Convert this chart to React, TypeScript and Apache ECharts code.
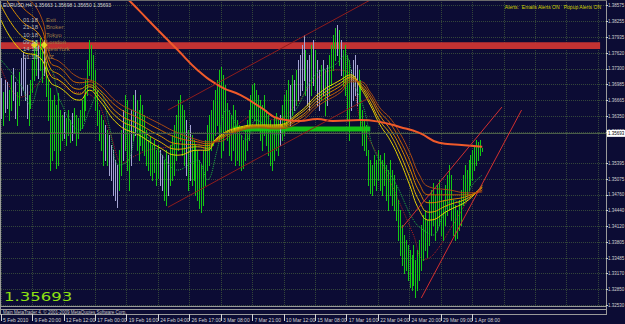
import React, { useEffect, useRef } from 'react';
import * as echarts from 'echarts';

// ---------- data ----------
const symbolTitle = 'EURUSD,H4';
const quote = ['1.35663', '1.35698', '1.35650', '1.35693'];
const currentPrice = 1.35693;

const dateLabels = [
  '5 Feb 2010', '9 Feb 20:00', '12 Feb 12:00', '17 Feb 00:00', '19 Feb 16:00', '24 Feb 04:00',
  '26 Feb 17:00', '3 Mar 08:00', '7 Mar 21:00', '10 Mar 12:00', '15 Mar 08:00', '17 Mar 16:00',
  '22 Mar 04:00', '24 Mar 20:00', '29 Mar 09:00', '1 Apr 08:00',
];

const yTickValues = [
  1.3253, 1.3285, 1.3317, 1.33485, 1.33805, 1.3412, 1.3444, 1.3476, 1.35075, 1.35395,
  1.3603, 1.3635, 1.36665, 1.36985, 1.373, 1.3762, 1.37935, 1.38255, 1.38575,
];

const highs = [
  1.3712, 1.3683, 1.3708, 1.3704, 1.3687, 1.3718, 1.3732, 1.3704, 1.3683, 1.3724,
  1.3752, 1.3764, 1.3752, 1.3698, 1.3677, 1.3708, 1.3748, 1.3776, 1.3788, 1.3778,
  1.3792, 1.3780, 1.3788, 1.3744, 1.3708, 1.3692, 1.3667, 1.3677, 1.3657, 1.3681,
  1.3647, 1.3637, 1.3643, 1.3631, 1.3647, 1.3627, 1.3641, 1.3651, 1.3637, 1.3631,
  1.3647, 1.3667, 1.3677, 1.3708, 1.3748, 1.3788, 1.3778, 1.3758, 1.3728, 1.3687,
  1.3647, 1.3637, 1.3627, 1.3617, 1.3607, 1.3597, 1.3577, 1.3566, 1.3546, 1.3536,
  1.3566, 1.3607, 1.3647, 1.3677, 1.3667, 1.3627, 1.3647, 1.3677, 1.3687, 1.3667,
  1.3647, 1.3677, 1.3657, 1.3637, 1.3607, 1.3587, 1.3593, 1.3577, 1.3587, 1.3566,
  1.3577, 1.3566, 1.3556, 1.3546, 1.3566, 1.3556, 1.3577, 1.3597, 1.3617, 1.3637,
  1.3667, 1.3677, 1.3657, 1.3647, 1.3627, 1.3607, 1.3617, 1.3597, 1.3587, 1.3577,
  1.3566, 1.3546, 1.3536, 1.3566, 1.3587, 1.3617, 1.3637, 1.3647, 1.3667, 1.3687,
  1.3708, 1.3728, 1.3734, 1.3718, 1.3698, 1.3661, 1.3647, 1.3637, 1.3657, 1.3647,
  1.3627, 1.3617, 1.3597, 1.3587, 1.3607, 1.3627, 1.3647, 1.3677, 1.3698, 1.3702,
  1.3687, 1.3677, 1.3667, 1.3657, 1.3677, 1.3647, 1.3637, 1.3627, 1.3617, 1.3631,
  1.3641, 1.3627, 1.3637, 1.3657, 1.3677, 1.3687, 1.3708, 1.3698, 1.3718, 1.3708,
  1.3728, 1.3748, 1.3758, 1.3778, 1.3798, 1.3768, 1.3748, 1.3758, 1.3778, 1.3788,
  1.3768, 1.3748, 1.3728, 1.3738, 1.3748, 1.3728, 1.3738, 1.3758, 1.3778, 1.3798,
  1.3813, 1.3819, 1.3808, 1.3788, 1.3768, 1.3778, 1.3758, 1.3748, 1.3728, 1.3748,
  1.3758, 1.3738, 1.3728, 1.3708, 1.3647, 1.3627, 1.3617, 1.3566, 1.3546, 1.3536,
  1.3556, 1.3546, 1.3566, 1.3556, 1.3546, 1.3560, 1.3536, 1.3526, 1.3546, 1.3526,
  1.3516, 1.3496, 1.3466, 1.3445, 1.3415, 1.3395, 1.3385, 1.3375, 1.3365, 1.3355,
  1.3375, 1.3345, 1.3365, 1.3385, 1.3415, 1.3435, 1.3445, 1.3425, 1.3466, 1.3486,
  1.3500, 1.3476, 1.3496, 1.3506, 1.3486, 1.3466, 1.3496, 1.3516, 1.3536, 1.3516,
  1.3466, 1.3456, 1.3445, 1.3466, 1.3486, 1.3516, 1.3536, 1.3526, 1.3546, 1.3556,
  1.3566, 1.3577, 1.3587, 1.3583, 1.3587, 1.3570,
];

const lows = [
  1.3631, 1.3617, 1.3643, 1.3651, 1.3627, 1.3647, 1.3667, 1.3631, 1.3617, 1.3657,
  1.3677, 1.3687, 1.3667, 1.3631, 1.3617, 1.3651, 1.3683, 1.3708, 1.3718, 1.3712,
  1.3728, 1.3704, 1.3718, 1.3675, 1.3627, 1.3526, 1.3546, 1.3566, 1.3530, 1.3536,
  1.3566, 1.3587, 1.3591, 1.3577, 1.3597, 1.3583, 1.3587, 1.3603, 1.3577, 1.3591,
  1.3607, 1.3611, 1.3627, 1.3647, 1.3677, 1.3718, 1.3708, 1.3687, 1.3647, 1.3617,
  1.3587, 1.3566, 1.3536, 1.3546, 1.3536, 1.3516, 1.3506, 1.3476, 1.3466, 1.3451,
  1.3486, 1.3516, 1.3546, 1.3566, 1.3526, 1.3486, 1.3536, 1.3587, 1.3597, 1.3566,
  1.3546, 1.3577, 1.3566, 1.3556, 1.3536, 1.3526, 1.3516, 1.3506, 1.3522, 1.3496,
  1.3510, 1.3496, 1.3486, 1.3466, 1.3456, 1.3476, 1.3496, 1.3506, 1.3516, 1.3546,
  1.3566, 1.3587, 1.3556, 1.3536, 1.3516, 1.3486, 1.3506, 1.3496, 1.3506, 1.3476,
  1.3466, 1.3449, 1.3441, 1.3456, 1.3496, 1.3526, 1.3536, 1.3566, 1.3577, 1.3597,
  1.3617, 1.3587, 1.3552, 1.3566, 1.3607, 1.3587, 1.3556, 1.3546, 1.3566, 1.3536,
  1.3546, 1.3536, 1.3526, 1.3530, 1.3546, 1.3566, 1.3587, 1.3617, 1.3631, 1.3627,
  1.3617, 1.3607, 1.3587, 1.3566, 1.3597, 1.3577, 1.3556, 1.3536, 1.3526, 1.3546,
  1.3566, 1.3556, 1.3577, 1.3587, 1.3597, 1.3607, 1.3627, 1.3617, 1.3637, 1.3647,
  1.3657, 1.3667, 1.3677, 1.3687, 1.3708, 1.3677, 1.3657, 1.3647, 1.3677, 1.3698,
  1.3687, 1.3657, 1.3647, 1.3667, 1.3677, 1.3637, 1.3657, 1.3677, 1.3698, 1.3728,
  1.3748, 1.3758, 1.3738, 1.3718, 1.3698, 1.3677, 1.3627, 1.3587, 1.3647, 1.3667,
  1.3677, 1.3657, 1.3627, 1.3607, 1.3577, 1.3566, 1.3556, 1.3496, 1.3480, 1.3476,
  1.3496, 1.3486, 1.3506, 1.3486, 1.3476, 1.3496, 1.3466, 1.3445, 1.3476, 1.3456,
  1.3445, 1.3425, 1.3385, 1.3355, 1.3334, 1.3318, 1.3324, 1.3304, 1.3290, 1.3284,
  1.3294, 1.3270, 1.3284, 1.3304, 1.3324, 1.3345, 1.3365, 1.3351, 1.3375, 1.3395,
  1.3415, 1.3385, 1.3405, 1.3415, 1.3395, 1.3385, 1.3415, 1.3435, 1.3445, 1.3425,
  1.3395, 1.3385, 1.3389, 1.3405, 1.3415, 1.3456, 1.3466, 1.3476, 1.3486, 1.3496,
  1.3506, 1.3526, 1.3536, 1.3546, 1.3556, 1.3565,
];

const bearBars = [
  0, 2, 3, 6, 7, 10, 11, 12, 13, 19, 22, 32, 36, 53, 55, 56, 57, 58, 59, 62, 66, 68, 81, 82, 85,
  94, 96, 142, 147, 149, 151, 152, 153, 154, 156, 157, 159, 161, 162, 164, 166, 171, 173, 178,
  179, 180, 181,
];

const ribbonKeys = [0, 10, 20, 25, 30, 40, 45, 50, 60, 70, 80, 90, 100, 105, 110, 120, 132, 140, 152, 162, 173, 178, 183, 188, 193, 198, 203, 208, 213, 218, 228, 238, 245];
const ribbon0 = [1.3829, 1.3768, 1.3752, 1.3704, 1.3692, 1.3667, 1.3687, 1.3667, 1.3617, 1.3597, 1.3573, 1.3556, 1.3566, 1.3566, 1.3591, 1.3611, 1.3617, 1.3617, 1.3643, 1.3681, 1.3708, 1.3718, 1.3692, 1.3657, 1.3617, 1.3587, 1.3546, 1.3496, 1.3445, 1.3425, 1.3445, 1.3466, 1.3496];
const ribbon1 = [1.3859, 1.3798, 1.3774, 1.3718, 1.3706, 1.3679, 1.3694, 1.3675, 1.3629, 1.3609, 1.3585, 1.3568, 1.3573, 1.3570, 1.3589, 1.3609, 1.3615, 1.3615, 1.3639, 1.3675, 1.3702, 1.3714, 1.3696, 1.3663, 1.3625, 1.3599, 1.3560, 1.3512, 1.3463, 1.3441, 1.3456, 1.3470, 1.3492];
const ribbon2 = [1.3889, 1.3829, 1.3796, 1.3732, 1.3718, 1.3689, 1.3698, 1.3683, 1.3639, 1.3619, 1.3597, 1.3579, 1.3577, 1.3575, 1.3587, 1.3607, 1.3615, 1.3613, 1.3633, 1.3669, 1.3696, 1.3712, 1.3698, 1.3671, 1.3635, 1.3609, 1.3575, 1.3530, 1.3482, 1.3460, 1.3466, 1.3474, 1.3490];
const ribbon3 = [1.3919, 1.3859, 1.3817, 1.3744, 1.3732, 1.3702, 1.3704, 1.3689, 1.3651, 1.3631, 1.3609, 1.3591, 1.3583, 1.3579, 1.3585, 1.3605, 1.3613, 1.3611, 1.3629, 1.3663, 1.3689, 1.3708, 1.3702, 1.3677, 1.3643, 1.3621, 1.3587, 1.3546, 1.3498, 1.3476, 1.3476, 1.3476, 1.3486];
const ribbon4 = [1.3949, 1.3889, 1.3839, 1.3758, 1.3744, 1.3712, 1.3708, 1.3698, 1.3661, 1.3641, 1.3621, 1.3601, 1.3587, 1.3583, 1.3583, 1.3603, 1.3611, 1.3609, 1.3623, 1.3657, 1.3683, 1.3704, 1.3704, 1.3683, 1.3651, 1.3631, 1.3601, 1.3562, 1.3516, 1.3492, 1.3486, 1.3480, 1.3482];

const greenDotKeys = [0, 10, 15, 20, 25, 30, 40, 45, 50, 55, 60, 65, 70, 80, 90, 100, 105, 110, 115, 125, 130, 140, 150, 160, 170, 175, 180, 185, 190, 200, 210, 215, 220, 225, 230, 235, 240, 245];
const greenDot = [1.3748, 1.3698, 1.3657, 1.3708, 1.3728, 1.3667, 1.3607, 1.3647, 1.3687, 1.3617, 1.3536, 1.3546, 1.3607, 1.3566, 1.3526, 1.3546, 1.3506, 1.3566, 1.3647, 1.3587, 1.3627, 1.3597, 1.3647, 1.3718, 1.3738, 1.3758, 1.3698, 1.3647, 1.3566, 1.3506, 1.3425, 1.3405, 1.3395, 1.3435, 1.3466, 1.3456, 1.3496, 1.3516];

const redDotKeys = [0, 10, 20, 25, 35, 47, 55, 62, 67, 75, 85, 95, 100, 105, 110, 120, 130, 140, 150, 160, 170, 178, 183, 193, 200, 210, 215, 220, 230, 240, 245];
const redDot = [1.3732, 1.3673, 1.3704, 1.3718, 1.3687, 1.3673, 1.3607, 1.3540, 1.3552, 1.3566, 1.3573, 1.3587, 1.3581, 1.3566, 1.3587, 1.3617, 1.3637, 1.3627, 1.3657, 1.3708, 1.3728, 1.3718, 1.3627, 1.3546, 1.3486, 1.3395, 1.3345, 1.3355, 1.3415, 1.3476, 1.3486];

const longMaKeys = [55, 60, 65, 70, 80, 90, 100, 112, 122, 132, 142, 152, 161, 169, 183, 193, 203, 213, 223, 233, 245];
const longMa = [1.3909, 1.3887, 1.3869, 1.3849, 1.3808, 1.3768, 1.3728, 1.3694, 1.3677, 1.3653, 1.3629, 1.3625, 1.3629, 1.3625, 1.3627, 1.3623, 1.3613, 1.3601, 1.3581, 1.3577, 1.3573];

const channelLower = [[85, 1.3451], [188, 1.3673]];
const channelUpper = [[85, 1.3647], [188, 1.3869]];
const wedgeUpper = [[204, 1.3409], [255, 1.3653]];
const wedgeLower = [[214, 1.3268], [265, 1.3647]];

const redBand = [1.3770, 1.3784];
const redBandBars = [0, 305];
const greenBand = [1.3604, 1.3614];
const greenBandBars = [118, 188];

const extremeMarks = [[17, 1.3778], [22, 1.3778]];

const sessionTimes = ['01:18', '21:18', '10:18', '09:18', '14:18', '01:18'];
const sessionNames = ['Exit', 'Broker', 'Tokyo', 'London', 'NewYork', 'NZ'];
const alertText = 'Alerts:  Emails Alerts ON   Popup Alerts ON';
const footerText = 'Main MetaTrader 4, \u00a9 2001-2009 MetaQuotes Software Corp.';

const CATEGORY_COUNT = 309;

// ---------- styles ----------
const BG = '#0c0c34';
const GRID = '#34463a';
const FRAME = '#9a9a9a';
const AXIS_TEXT = '#d2d2d2';
const BULL = '#14c814';
const BEAR = '#a4a4d4';
const RIBBON_COLORS = ['#e6d200', '#e0ae00', '#d88a00', '#c86600', '#a84a12'];

export default function App() {
  const ref = useRef<HTMLDivElement>(null);

  useEffect(() => {
    if (!ref.current) return;
    const chart = echarts.init(ref.current, null, { renderer: 'svg' });

    const categories = Array.from({ length: CATEGORY_COUNT }, (_, k) =>
      k % 16 === 0 && k / 16 < dateLabels.length ? dateLabels[k / 16] : `#${k}`,
    );
    const labelled = (i: number) => i % 16 === 0 && i / 16 < dateLabels.length;

    const bearSet = new Set(bearBars);
    const barData = highs.map((h, i) => [i, lows[i], h]);

    const zip = (keys: number[], vals: number[]) => keys.map((k, i) => [k, vals[i]]);
    const ribbons = [ribbon0, ribbon1, ribbon2, ribbon3, ribbon4];

    const textStyle = (text: string, fill: string, fontSize: number, extra: any = {}) => ({
      text,
      fill,
      fontSize,
      fontFamily: 'Liberation Sans',
      verticalAlign: 'middle',
      ...extra,
    });

    const legendGraphics: any[] = [];
    sessionTimes.forEach((t, i) => {
      legendGraphics.push({ type: 'text', x: 23, y: 20 + i * 7.3, z: 50, style: textStyle(t, '#b8b8b0', 6) });
      legendGraphics.push({ type: 'text', x: 46, y: 20 + i * 7.3, z: 50, style: textStyle(sessionNames[i], '#9c7c44', 6) });
    });

    const trendLine = (data: number[][], color: string, type: string = 'solid') => ({
      type: 'line',
      data,
      z: 5,
      symbol: 'none',
      silent: true,
      lineStyle: { color, width: 1, type },
    });

    const option: any = {
      animation: false,
      backgroundColor: BG,
      grid: { left: 1, right: 19, top: 0, bottom: 18, containLabel: false, outerBoundsMode: 'none' },
      xAxis: {
        type: 'category',
        data: categories,
        boundaryGap: false,
        offset: 8,
        axisLine: { show: true, lineStyle: { color: FRAME, width: 1 } },
        axisTick: { show: true, interval: (i: number) => labelled(i), length: 7, lineStyle: { color: AXIS_TEXT } },
        axisLabel: {
          interval: (i: number) => labelled(i),
          align: 'left',
          margin: 3,
          padding: [0, 0, 0, 2],
          fontSize: 5,
          fontFamily: 'Liberation Sans',
          color: AXIS_TEXT,
        },
        splitLine: { show: true, interval: 15, lineStyle: { color: GRID, type: 'dotted', width: 1 } },
      },
      yAxis: {
        type: 'value',
        position: 'right',
        min: 1.32518,
        max: 1.3869,
        axisLine: { show: true, lineStyle: { color: FRAME, width: 1 } },
        axisTick: { show: true, customValues: yTickValues, length: 2, lineStyle: { color: AXIS_TEXT } },
        axisLabel: {
          customValues: yTickValues,
          formatter: (v: number) => v.toFixed(5),
          fontSize: 4.5,
          fontFamily: 'Liberation Sans',
          color: AXIS_TEXT,
          margin: 2,
        },
        splitLine: { show: true, lineStyle: { color: GRID, type: 'dotted', width: 1 } },
      },
      series: [
        {
          type: 'line',
          name: 'redDot',
          z: 1,
          data: zip(redDotKeys, redDot),
          smooth: 0.4,
          symbol: 'none',
          silent: true,
          lineStyle: { color: '#b02020', width: 1, type: 'dotted' },
          markArea: {
            silent: true,
            label: { show: false },
            itemStyle: { color: '#c23232', opacity: 1 },
            data: [[{ coord: [redBandBars[0], redBand[1]] }, { coord: [redBandBars[1], redBand[0]] }]],
          },
        },
        {
          type: 'custom',
          name: 'bars',
          z: 2,
          data: barData,
          encode: { x: 0, y: [1, 2] },
          silent: true,
          renderItem: (params: any, api: any) => {
            const k = api.value(0);
            const hi = api.coord([k, api.value(2)]);
            const lo = api.coord([k, api.value(1)]);
            const top = Math.round(hi[1]);
            return {
              type: 'rect',
              shape: { x: Math.round(hi[0]), y: top, width: 1, height: Math.max(1, Math.round(lo[1]) - top + 1) },
              style: { fill: bearSet.has(params.dataIndex) ? BEAR : BULL, stroke: null, lineWidth: 0 },
            };
          },
        },
        {
          type: 'line',
          name: 'greenDot',
          z: 3,
          data: zip(greenDotKeys, greenDot),
          smooth: 0.4,
          symbol: 'none',
          silent: true,
          lineStyle: { color: '#22b040', width: 1, type: 'dotted' },
          markArea: {
            silent: true,
            label: { show: false },
            itemStyle: { color: '#14c014', opacity: 1 },
            data: [[{ coord: [greenBandBars[0], greenBand[1]] }, { coord: [greenBandBars[1], greenBand[0]] }]],
          },
        },
        ...ribbons.map((r, i) => ({
          type: 'line',
          name: `ribbon${i}`,
          z: 4,
          data: zip(ribbonKeys, r),
          smooth: 0.5,
          symbol: 'none',
          silent: true,
          lineStyle: { color: RIBBON_COLORS[i], width: 1 },
        })),
        {
          type: 'line',
          name: 'longMa',
          z: 5,
          data: zip(longMaKeys, longMa),
          smooth: 0.5,
          symbol: 'none',
          silent: true,
          lineStyle: { color: '#f05a2a', width: 2 },
          markLine: {
            silent: true,
            symbol: ['none', 'none'],
            data: [{ yAxis: currentPrice }],
            lineStyle: { color: '#4a5c4a', width: 1, type: 'solid' },
            label: {
              show: true,
              position: 'end',
              formatter: currentPrice.toFixed(5),
              backgroundColor: '#ffffff',
              color: '#000000',
              fontSize: 4.5,
              fontFamily: 'Liberation Sans',
              padding: [1, 1, 1, 1],
              distance: 1,
            },
          },
        },
        trendLine(channelLower, '#8e1c1c'),
        trendLine(channelUpper, '#8e1c1c'),
        trendLine(wedgeUpper, '#d23030'),
        trendLine(wedgeLower, '#d23030'),
        {
          type: 'scatter',
          name: 'extremes',
          z: 6,
          data: extremeMarks,
          symbol: 'diamond',
          symbolSize: 7,
          silent: true,
          itemStyle: { color: '#f4f428' },
        },
      ],
      graphic: [
        { type: 'line', z: 40, shape: { x1: 0.5, y1: 0, x2: 0.5, y2: 315 }, style: { stroke: FRAME, lineWidth: 1 } },
        { type: 'line', z: 40, shape: { x1: 0, y1: 0.5, x2: 607, y2: 0.5 }, style: { stroke: '#6c6c6c', lineWidth: 1 } },
        { type: 'line', z: 40, shape: { x1: 0, y1: 306.5, x2: 607, y2: 306.5 }, style: { stroke: FRAME, lineWidth: 1 } },
        { type: 'line', z: 40, shape: { x1: 0, y1: 309.5, x2: 607, y2: 309.5 }, style: { stroke: FRAME, lineWidth: 1 } },
        { type: 'line', z: 40, shape: { x1: 606.5, y1: 306, x2: 606.5, y2: 315 }, style: { stroke: FRAME, lineWidth: 1 } },
        {
          type: 'text', x: 3, y: 5, z: 50,
          style: textStyle(`${symbolTitle}  ${quote.join(' ')}`, '#d8d8d8', 5),
        },
        ...legendGraphics,
        {
          type: 'text', x: 601, y: 7, z: 50,
          style: textStyle(alertText, '#d4d400', 5, { align: 'right' }),
        },
        {
          type: 'text', x: 4, y: 296.5, z: 50, scaleX: 1.32,
          style: { text: currentPrice.toFixed(5), fill: '#8ee012', fontSize: 12.5, fontFamily: 'DejaVu Sans', verticalAlign: 'middle' },
        },
        {
          type: 'text', x: 3, y: 312, z: 50,
          style: textStyle(footerText, '#c8c8c8', 4.5),
        },
      ],
    };

    chart.setOption(option);
    return () => chart.dispose();
  }, []);

  return <div ref={ref} style={{ position: 'fixed', left: 0, top: 0, width: 625, height: 324 }} />;
}
